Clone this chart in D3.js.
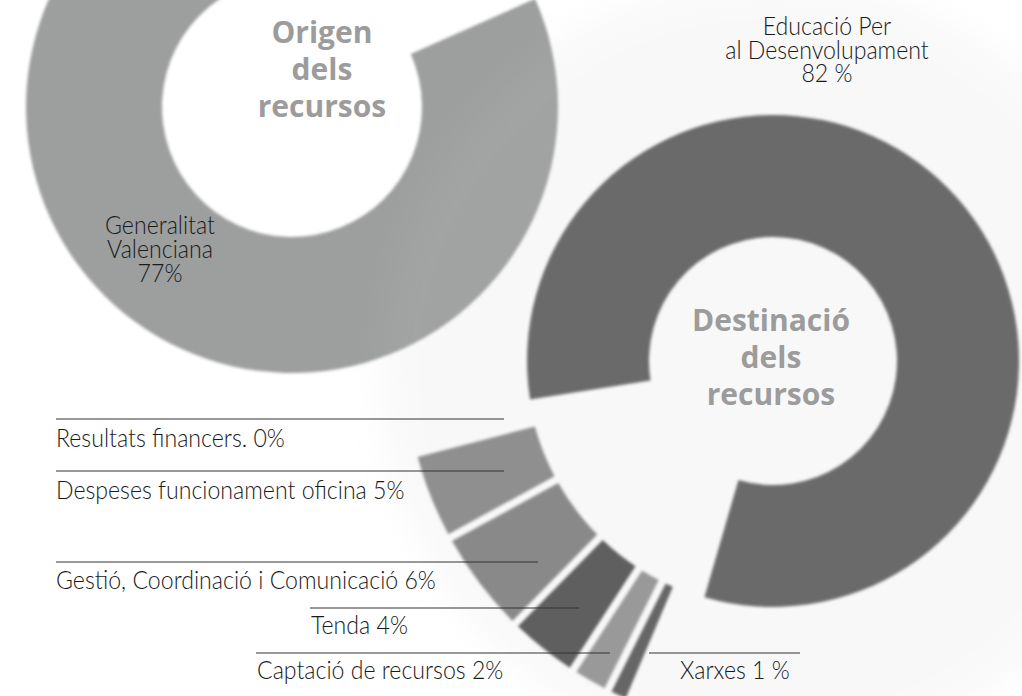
<!DOCTYPE html>
<html>
<head>
<meta charset="utf-8">
<script src="https://cdn.jsdelivr.net/npm/d3@7"></script>
<style>
  body { margin: 0; background: #fff; }
  svg { display: block; }
</style>
</head>
<body>
<svg id="chart"></svg>
<script>
// Origen dels recursos
const origenCategories = ["Generalitat Valenciana", "resta"];
const origenValues = [77, 23];

// Destinació dels recursos
const destiCategories = [
  "Educació Per al Desenvolupament",
  "Xarxes",
  "Captació de recursos",
  "Tenda",
  "Gestió, Coordinació i Comunicació",
  "Despeses funcionament oficina",
  "Resultats financers."
];
const destiValues = [82, 1, 2, 4, 6, 5, 0];
const destiLabels = ["82 %", "Xarxes 1 %", "Captació de recursos 2%", "Tenda 4%",
  "Gestió, Coordinació i Comunicació 6%", "Despeses funcionament oficina 5%", "Resultats financers. 0%"];

const W = 1022, H = 696;
const deg = Math.PI / 180;

const svg = d3.select("#chart").attr("width", W).attr("height", H);

const defs = svg.append("defs");
defs.append("filter").attr("id", "soft")
  .attr("x", "-10%").attr("y", "-10%").attr("width", "120%").attr("height", "120%")
  .append("feGaussianBlur").attr("stdDeviation", 1.4);
defs.append("filter").attr("id", "glow")
  .attr("x", "-30%").attr("y", "-30%").attr("width", "160%").attr("height", "160%")
  .append("feGaussianBlur").attr("stdDeviation", 16);

// ---- donut esquerre (origen)
const origen = { cx: 292, cy: 107, r0: 130, r1: 266 };
const pieOrigen = d3.pie().sort(null).value(d => d)
  .startAngle(66 * deg).endAngle(426 * deg);
const arcOrigen = d3.arc().innerRadius(origen.r0).outerRadius(origen.r1);

const gO = svg.append("g").attr("transform", `translate(${origen.cx},${origen.cy})`);
gO.selectAll("path")
  .data(pieOrigen(origenValues).filter(d => d.index === 0))
  .enter().append("path")
  .attr("d", arcOrigen)
  .attr("fill", "#9d9e9e")
  .attr("filter", "url(#soft)");

// ---- halo darrere del donut dret
const desti = { cx: 773, cy: 361, r0: 124, r1: 246, r2: 247, r3: 368 };
svg.append("circle")
  .attr("cx", desti.cx - 4).attr("cy", desti.cy + 8)
  .attr("r", 390)
  .attr("fill", "#c8c8c8")
  .attr("opacity", 0.11)
  .attr("filter", "url(#glow)");

// ---- donut dret (destinació)
const destiColors = ["#6b6b6b", "#666666", "#999999", "#5e5e5e", "#898989", "#8f8f8f", "#8f8f8f"];

const pieMain = d3.pie().sort(null).value(d => d)
  .startAngle(-99 * deg).endAngle(261 * deg);
const arcMain = d3.arc().innerRadius(desti.r0).outerRadius(desti.r1);

const pieRest = d3.pie().sort(null).value(d => d)
  .startAngle(203 * deg).endAngle(256.5 * deg)
  .padAngle(1.0 * deg);
const arcRest = d3.arc().innerRadius(desti.r2).outerRadius(desti.r3);

const gD = svg.append("g").attr("transform", `translate(${desti.cx},${desti.cy})`);

gD.selectAll("path.main")
  .data(pieMain(destiValues).filter(d => d.index === 0))
  .enter().append("path")
  .attr("class", "main")
  .attr("d", arcMain)
  .attr("fill", destiColors[0])
  .attr("filter", "url(#soft)");

gD.selectAll("path.rest")
  .data(pieRest(destiValues.slice(1)).filter(d => d.value > 0))
  .enter().append("path")
  .attr("class", "rest")
  .attr("d", arcRest)
  .attr("fill", d => destiColors[d.index + 1])
  .attr("filter", "url(#soft)");

// ---- títols centrals
const titleFont = "'Open Sans', 'DejaVu Sans', sans-serif";
function centerTitle(lines, x, ys, size) {
  svg.append("g").selectAll("text")
    .data(lines)
    .enter().append("text")
    .attr("x", x)
    .attr("y", (d, i) => ys[i])
    .attr("text-anchor", "middle")
    .style("font-family", titleFont)
    .style("font-weight", 700)
    .style("font-size", size + "px")
    .style("fill", "#9c9c9c")
    .text(d => d);
}
centerTitle(["Origen", "dels", "recursos"], 322, [43, 80, 117], 30);
centerTitle(["Destinació", "dels", "recursos"], 771, [331, 368, 405], 30);

// ---- etiquetes
const labelFont = "Lato, 'Open Sans', sans-serif";
const squeeze = 0.925;
function label(lines, x, ys, anchor) {
  svg.append("g").selectAll("text")
    .data(lines)
    .enter().append("text")
    .attr("transform", (d, i) => `translate(${x},${ys[i]}) scale(${squeeze},1)`)
    .attr("text-anchor", anchor)
    .style("font-family", labelFont)
    .style("font-weight", 300)
    .style("font-size", "25px")
    .style("fill", "#1a1a1a")
    .text(d => d);
}

label(["Generalitat", "Valenciana", origenValues[0] + "%"], 160, [234, 258, 282], "middle");
label(["Educació Per", "al Desenvolupament", destiLabels[0]], 827, [35, 59, 82], "middle");

// línies guia + text de les partides petites
const leaders = [
  { i: 6, x0: 56, x1: 504, y: 419, tx: 56, ty: 447 },
  { i: 5, x0: 56, x1: 504, y: 471, tx: 56, ty: 499 },
  { i: 4, x0: 56, x1: 538, y: 562, tx: 56, ty: 589 },
  { i: 3, x0: 310, x1: 579, y: 608, tx: 311, ty: 634 },
  { i: 2, x0: 256, x1: 610, y: 653, tx: 257, ty: 679 },
  { i: 1, x0: 649, x1: 800, y: 653, tx: 680, ty: 679 }
];

svg.append("g").selectAll("line")
  .data(leaders)
  .enter().append("line")
  .attr("x1", d => d.x0).attr("x2", d => d.x1)
  .attr("y1", d => d.y).attr("y2", d => d.y)
  .attr("stroke", "#333")
  .attr("stroke-width", 1.2);

leaders.forEach(d => label([destiLabels[d.i]], d.tx, [d.ty], "start"));
</script>
</body>
</html>
